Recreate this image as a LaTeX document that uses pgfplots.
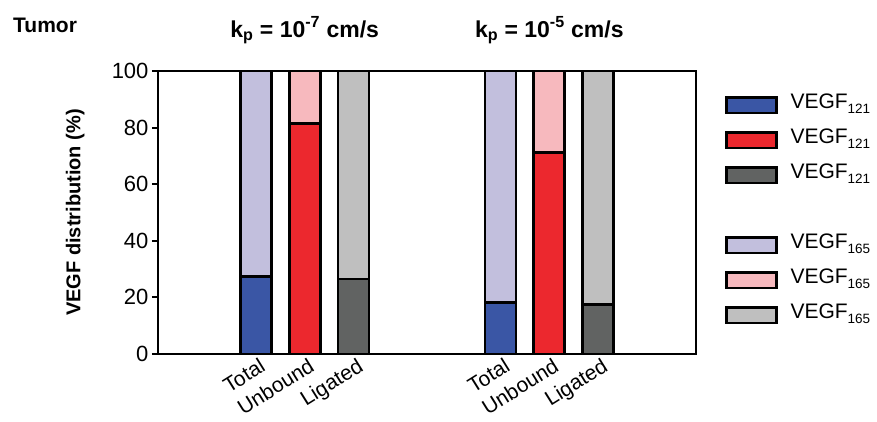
\documentclass[border=0pt]{standalone}
\usepackage{fontspec}
\setmainfont{Liberation Sans}
\usepackage{pgfplots}
\pgfplotsset{compat=1.18}

\definecolor{blueA}{HTML}{3A56A5}
\definecolor{redA}{HTML}{EC282E}
\definecolor{grayA}{HTML}{616362}
\definecolor{blueB}{HTML}{C2BFDD}
\definecolor{redB}{HTML}{F7B9BE}
\definecolor{grayB}{HTML}{BFBFBF}

\pgfplotsset{
  seg/.style={fill=#1, draw=black, line width=2.6pt,
    legend image code/.code={
      \draw[fill=#1, draw=black, line width=2.6pt] (0pt,-9.8pt) rectangle (50pt,5.8pt);
      \path[draw=none, fill=none] (0pt,0pt) -- (63pt,0pt);}},
}
\newcommand{\sub}[1]{\raisebox{-5.5pt}{\fontsize{13.5}{14}\selectfont #1}}

\begin{document}
\begin{tikzpicture}
\begin{axis}[
  scale only axis, width=538pt, height=283pt,
  xmin=0, xmax=11, ymin=0, ymax=100,
  ybar stacked, bar width=31pt,
  xtick={2,3,4,7,8,9},
  xticklabels={Total,Unbound,Ligated,Total,Unbound,Ligated},
  x tick style={draw=none},
  xticklabel style={font=\fontsize{21}{24}\selectfont, rotate=32, anchor=north east,
    inner sep=1pt, xshift=5pt, yshift=2pt},
  ytick={0,20,40,60,80,100},
  yticklabel style={font=\fontsize{22}{24}\selectfont},
  /pgf/number format/assume math mode=true,
  tick align=outside, tick pos=left, major tick length=6pt,
  y tick style={line width=2pt, black},
  axis line style={line width=2.6pt},
  ylabel={\textbf{VEGF distribution (\%)}},
  ylabel style={font=\fontsize{20}{22}\selectfont, at={(axis description cs:-0.154,0.5)}, anchor=center},
  clip=false,
  legend style={at={(1.054,0.926)}, anchor=north west, draw=none, fill=none,
    inner sep=0pt, font=\fontsize{21}{23}\selectfont, row sep=12.5pt,
    nodes={text height=15pt, text depth=5.5pt, inner sep=1pt}},
  legend cell align=left,
]
\addplot[seg=blueA] coordinates {(2,27.3) (3,0) (4,0) (7,18.2) (8,0) (9,0)};
\addlegendentry{VEGF\sub{121}}
\addplot[seg=redA] coordinates {(2,0) (3,81.5) (4,0) (7,0) (8,71.1) (9,0)};
\addlegendentry{VEGF\sub{121}}
\addplot[seg=grayA] coordinates {(2,0) (3,0) (4,26.5) (7,0) (8,0) (9,17.4)};
\addlegendentry{VEGF\sub{121}}
\addlegendimage{empty legend}
\addlegendentry{\strut}
\addplot[seg=blueB] coordinates {(2,72.7) (3,0) (4,0) (7,81.8) (8,0) (9,0)};
\addlegendentry{VEGF\sub{165}}
\addplot[seg=redB] coordinates {(2,0) (3,18.5) (4,0) (7,0) (8,28.9) (9,0)};
\addlegendentry{VEGF\sub{165}}
\addplot[seg=grayB] coordinates {(2,0) (3,0) (4,73.5) (7,0) (8,0) (9,82.6)};
\addlegendentry{VEGF\sub{165}}
\node[anchor=base, font=\fontsize{23}{25}\selectfont\bfseries] at ([yshift=34pt]axis cs:3,100) {k\textsubscript{p} = 10\textsuperscript{-7} cm/s};
\node[anchor=base, font=\fontsize{23}{25}\selectfont\bfseries] at ([yshift=34pt]axis cs:8,100) {k\textsubscript{p} = 10\textsuperscript{-5} cm/s};
\node[anchor=base west, inner sep=0pt, font=\fontsize{21}{23}\selectfont\bfseries] at ([xshift=-145pt, yshift=39pt]axis cs:0,100) {Tumor};
\coordinate (tl) at ([xshift=-158pt, yshift=71pt]axis cs:0,100);
\coordinate (br) at ([xshift=181pt, yshift=-67pt]axis cs:11,0);
\end{axis}
\pgfresetboundingbox
\path[use as bounding box] (tl) rectangle (br);
\end{tikzpicture}
\end{document}
